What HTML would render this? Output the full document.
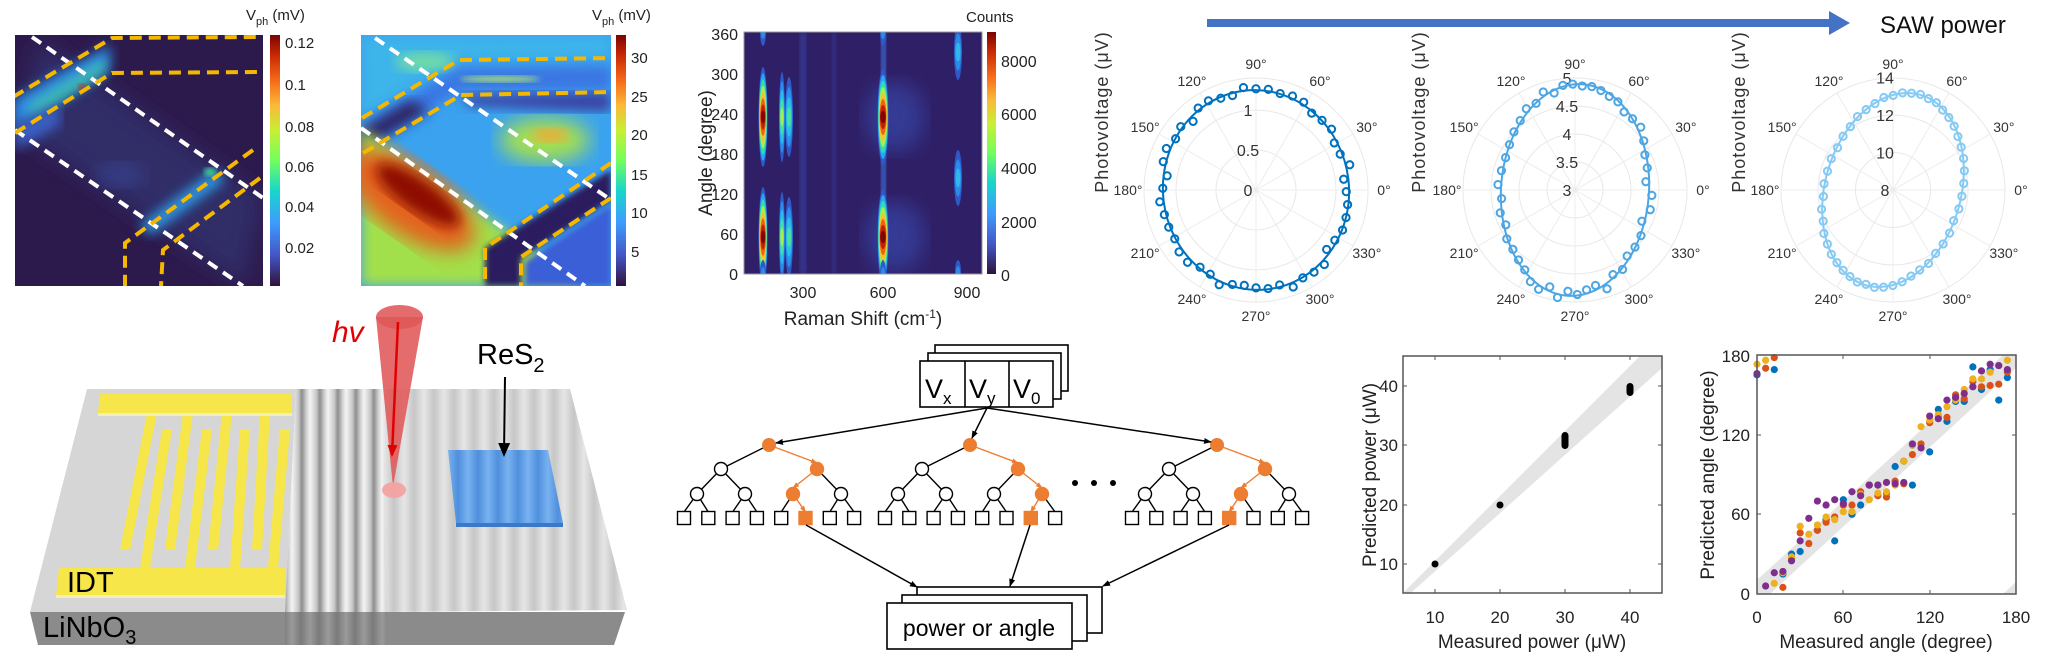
<!DOCTYPE html>
<html><head><meta charset="utf-8">
<style>
html,body{margin:0;padding:0;background:#fff;}
svg{display:block;font-family:"Liberation Sans",sans-serif;}
</style></head>
<body>
<svg id="s" width="2048" height="661" viewBox="0 0 2048 661" xmlns="http://www.w3.org/2000/svg">
<defs>
<linearGradient id="turbo" x1="0" y1="1" x2="0" y2="0">
<stop offset="0" stop-color="#30123b"/><stop offset="0.12" stop-color="#4454c4"/><stop offset="0.25" stop-color="#3e9bfe"/><stop offset="0.38" stop-color="#18d6cb"/><stop offset="0.5" stop-color="#72fe5e"/><stop offset="0.62" stop-color="#c8ef34"/><stop offset="0.72" stop-color="#fbb938"/><stop offset="0.82" stop-color="#f56918"/><stop offset="0.92" stop-color="#c92903"/><stop offset="1" stop-color="#7a0403"/>
</linearGradient>
<filter id="b3"><feGaussianBlur stdDeviation="3"/></filter>
<filter id="b6"><feGaussianBlur stdDeviation="6"/></filter>
<filter id="b10"><feGaussianBlur stdDeviation="10"/></filter>
<clipPath id="c1"><rect x="15" y="35" width="248" height="251"/></clipPath>
<clipPath id="c2"><rect x="361" y="35" width="250" height="251"/></clipPath>
<clipPath id="c3"><rect x="744" y="32" width="238" height="242"/></clipPath>
<clipPath id="ca"><rect x="1757" y="355" width="259" height="239"/></clipPath>
<clipPath id="cp"><rect x="1403" y="356" width="259" height="237"/></clipPath>
<linearGradient id="rip1" gradientUnits="userSpaceOnUse" x1="292" y1="0" x2="310" y2="0" spreadMethod="repeat">
<stop offset="0" stop-color="#f4f4f4"/><stop offset="0.35" stop-color="#c8c8c8"/><stop offset="0.55" stop-color="#8e8e8e"/><stop offset="0.8" stop-color="#d0d0d0"/><stop offset="1" stop-color="#f4f4f4"/>
</linearGradient>
<linearGradient id="rip2" gradientUnits="userSpaceOnUse" x1="384" y1="0" x2="404" y2="0" spreadMethod="repeat">
<stop offset="0" stop-color="#e6e6e6"/><stop offset="0.5" stop-color="#c6c6c6"/><stop offset="1" stop-color="#e6e6e6"/>
</linearGradient>
<linearGradient id="rip3" gradientUnits="userSpaceOnUse" x1="448" y1="0" x2="468" y2="0" spreadMethod="repeat">
<stop offset="0" stop-color="#78b2f0"/><stop offset="0.5" stop-color="#4f8fdc"/><stop offset="1" stop-color="#78b2f0"/>
</linearGradient>
<linearGradient id="front" gradientUnits="userSpaceOnUse" x1="292" y1="0" x2="310" y2="0" spreadMethod="repeat">
<stop offset="0" stop-color="#9a9a9a"/><stop offset="0.5" stop-color="#7a7a7a"/><stop offset="1" stop-color="#9a9a9a"/>
</linearGradient>
<marker id="ak" markerWidth="8" markerHeight="8" refX="7" refY="4" orient="auto" markerUnits="userSpaceOnUse"><path d="M0,1 L8,4 L0,7 Z" fill="#000"/></marker>
<marker id="ao" markerWidth="7" markerHeight="7" refX="6" refY="3.5" orient="auto" markerUnits="userSpaceOnUse"><path d="M0,1 L7,3.5 L0,6 Z" fill="#ed7d31"/></marker>
<marker id="ar" markerWidth="12" markerHeight="12" refX="10" refY="6" orient="auto" markerUnits="userSpaceOnUse"><path d="M0,1 L12,6 L0,11 Z" fill="#e00000"/></marker>
<marker id="ab" markerWidth="14" markerHeight="14" refX="12" refY="7" orient="auto" markerUnits="userSpaceOnUse"><path d="M0,1 L14,7 L0,13 Z" fill="#000"/></marker>
</defs>

<!-- ===== MAP 1 ===== -->
<g clip-path="url(#c1)">
<rect x="15" y="35" width="248" height="251" fill="#2d1a4d"/>
<polygon points="40,40 263,198 243,286 15,130" fill="#33306e" filter="url(#b10)" opacity="0.8"/>
<polygon points="13,100 110,45 110,70 13,130" fill="#2f8ee6" filter="url(#b6)"/>
<polygon points="30,105 105,60 105,72 30,118" fill="#45d69a" filter="url(#b6)" opacity="0.8"/>
<ellipse cx="82" cy="87" rx="4" ry="3" fill="#c83010" filter="url(#b3)"/>
<polygon points="15,125 60,105 60,125 15,150" fill="#3a60c8" filter="url(#b6)"/>
<polygon points="140,225 215,170 225,180 150,235" fill="#2f9eea" filter="url(#b6)"/>
<ellipse cx="210" cy="172" rx="6" ry="4" fill="#40d890" filter="url(#b3)"/>
<ellipse cx="120" cy="175" rx="25" ry="12" fill="#3a4ea0" filter="url(#b10)" opacity="0.6"/>
<g fill="none" stroke-width="4">
<path d="M32,37 L263,198" stroke="#fff" stroke-dasharray="11 7"/>
<path d="M15,130 L243,286" stroke="#fff" stroke-dasharray="11 7"/>
<path d="M13,97 L112,38 L260,37" stroke="#f5b800" stroke-dasharray="12 7"/>
<path d="M15,133 L112,73 L258,72" stroke="#f5b800" stroke-dasharray="12 7"/>
<path d="M253,150 L125,243 L125,286" stroke="#f5b800" stroke-dasharray="12 7"/>
<path d="M260,178 L163,250 L161,286" stroke="#f5b800" stroke-dasharray="12 7"/>
</g>
</g>
<rect x="270" y="35" width="10" height="251" fill="url(#turbo)"/>
<g font-size="15" fill="#222">
<text x="285" y="48">0.12</text><text x="285" y="90">0.1</text><text x="285" y="132">0.08</text><text x="285" y="172">0.06</text><text x="285" y="212">0.04</text><text x="285" y="253">0.02</text>
<text x="246" y="20">V<tspan font-size="11" dy="5">ph</tspan><tspan dy="-5"> (mV)</tspan></text>
</g>

<!-- ===== MAP 2 ===== -->
<g clip-path="url(#c2)">
<rect x="361" y="35" width="250" height="251" fill="#3aa2ef"/>
<polygon points="361,35 611,35 611,58 459,60 362,118" fill="#3cb4ea" filter="url(#b6)"/>
<ellipse cx="425" cy="62" rx="30" ry="10" fill="#6fdca8" filter="url(#b6)"/>
<polygon points="362,125 459,68 611,66 611,90 461,90 362,150" fill="#3a74e2" filter="url(#b6)"/>
<ellipse cx="500" cy="79" rx="40" ry="3" fill="#a8e27a" filter="url(#b3)"/>
<polygon points="461,95 611,92 611,112 470,106" fill="#3a3fa0" filter="url(#b6)"/>
<polygon points="361,130 410,100 430,110 361,150" fill="#2e2564" filter="url(#b6)"/>
<ellipse cx="545" cy="140" rx="45" ry="22" fill="#a6e04e" filter="url(#b10)"/>
<ellipse cx="550" cy="135" rx="18" ry="7" fill="#f0a838" filter="url(#b6)"/>
<polygon points="361,128 585,286 361,286" fill="#a2e04c" filter="url(#b6)"/>
<ellipse cx="410" cy="200" rx="75" ry="34" transform="rotate(35 410 200)" fill="#e3621a" filter="url(#b10)"/>
<ellipse cx="418" cy="195" rx="50" ry="16" transform="rotate(35 418 195)" fill="#8e1005" filter="url(#b6)"/>
<polygon points="611,170 611,200 521,258 521,286 485,286 485,248" fill="#2b1f5e" filter="url(#b3)"/>
<polygon points="611,205 611,286 525,286 525,262" fill="#3b5ed6" filter="url(#b3)"/>
<g fill="none" stroke-width="4">
<path d="M375,38 L611,200" stroke="#fff" stroke-dasharray="11 7"/>
<path d="M361,128 L585,286" stroke="#fff" stroke-dasharray="11 7"/>
<path d="M362,118 L459,60 L610,58" stroke="#f5b800" stroke-dasharray="12 7"/>
<path d="M363,153 L461,95 L610,92" stroke="#f5b800" stroke-dasharray="12 7"/>
<path d="M611,163 L485,248 L485,286" stroke="#f5b800" stroke-dasharray="12 7"/>
<path d="M611,198 L521,257 L521,286" stroke="#f5b800" stroke-dasharray="12 7"/>
</g>
</g>
<rect x="616" y="35" width="10" height="251" fill="url(#turbo)"/>
<g font-size="15" fill="#222">
<text x="631" y="63">30</text><text x="631" y="102">25</text><text x="631" y="140">20</text><text x="631" y="180">15</text><text x="631" y="218">10</text><text x="631" y="257">5</text>
<text x="592" y="20">V<tspan font-size="11" dy="5">ph</tspan><tspan dy="-5"> (mV)</tspan></text>
</g>

<!-- ===== RAMAN ===== -->
<g clip-path="url(#c3)" id="raman">
<rect x="744" y="32" width="238" height="242" fill="#2f1f66"/>
<rect x="800" y="32" width="6" height="242" fill="#3a4fb8" filter="url(#b3)" opacity="0.6"/>
<rect x="832" y="32" width="4" height="242" fill="#3a4fb8" filter="url(#b3)" opacity="0.5"/>
<rect x="881" y="32" width="5" height="242" fill="#3a6ed8" filter="url(#b3)"/>
<ellipse cx="895" cy="117" rx="30" ry="35" fill="#3b55c0" opacity="0.5" filter="url(#b10)"/>
<ellipse cx="895" cy="237" rx="30" ry="35" fill="#3b55c0" opacity="0.5" filter="url(#b10)"/>
</g>
<g stroke="#999" fill="none"><rect x="744" y="32" width="238" height="242"/></g>
<g font-size="16" fill="#222">
<text x="738" y="40" text-anchor="end">360</text><text x="738" y="80" text-anchor="end">300</text><text x="738" y="120" text-anchor="end">240</text><text x="738" y="160" text-anchor="end">180</text><text x="738" y="200" text-anchor="end">120</text><text x="738" y="240" text-anchor="end">60</text><text x="738" y="280" text-anchor="end">0</text>
<text x="803" y="298" text-anchor="middle">300</text><text x="883" y="298" text-anchor="middle">600</text><text x="967" y="298" text-anchor="middle">900</text>
<text x="863" y="325" text-anchor="middle" font-size="19">Raman Shift (cm<tspan font-size="12" dy="-7">-1</tspan><tspan dy="7">)</tspan></text>
<text transform="translate(712,153) rotate(-90)" text-anchor="middle" font-size="19">Angle (degree)</text>
</g>
<rect x="987" y="32" width="9" height="242" fill="url(#turbo)"/>
<g font-size="16" fill="#222">
<text x="1001" y="67">8000</text><text x="1001" y="120">6000</text><text x="1001" y="174">4000</text><text x="1001" y="228">2000</text><text x="1001" y="281">0</text>
<text x="966" y="22" font-size="15">Counts</text>
</g>

<!-- ===== ARROW SAW ===== -->
<rect x="1207" y="19" width="625" height="8" fill="#4472c4"/>
<polygon points="1829,11 1850,23 1829,35" fill="#4472c4"/>
<text x="1880" y="33" font-size="24" fill="#111">SAW power</text>

<g id="polars"></g>

<!-- ===== DEVICE ===== -->
<polygon points="30,612 625,612 614,645 38,645" fill="#8b8b8b"/>
<polygon points="285,612 387,612 387,645 285,645" fill="url(#front)"/>
<polygon points="87,389 296,389 285,612 30,612" fill="#d6d6d6"/>
<polygon points="296,389 384,389 387,612 285,612" fill="url(#rip1)"/>
<polygon points="384,389 570,389 627,610 387,612" fill="url(#rip2)"/>
<g fill="#f7e64a">
<polygon points="100,394 292,394 292,413 98,413"/>
<polygon points="59,568 285,568 285,595 56,595"/>
<polygon points="147,413 157,413 130,550 120,550"/><polygon points="183,413 193,413 175,550 165,550"/>
<polygon points="222,413 232,413 218,550 208,550"/><polygon points="260,413 270,413 262,550 252,550"/>
<polygon points="162,429 172,429 150,568 140,568"/><polygon points="202,429 212,429 195,568 185,568"/>
<polygon points="240,429 250,429 240,568 230,568"/><polygon points="280,429 290,429 278,568 268,568"/>
</g>
<g fill="#f2eeb8"><rect x="98" y="413" width="194" height="3"/><rect x="56" y="595" width="229" height="3"/></g>
<text x="67" y="592" font-size="29" fill="#000">IDT</text>
<text x="43" y="637" font-size="29" fill="#000">LiNbO<tspan font-size="20" dy="7">3</tspan></text>
<polygon points="448,450 548,450 563,523 456,523" fill="url(#rip3)"/>
<polygon points="456,523 563,523 563,527 456,527" fill="#3c78c8"/>
<text x="477" y="364" font-size="29" fill="#000">ReS<tspan font-size="20" dy="8">2</tspan></text>
<line x1="505" y1="377" x2="504" y2="455" stroke="#000" stroke-width="2" marker-end="url(#ab)"/>
<polygon points="376,317 423,317 393,487" fill="#e05858" opacity="0.88"/>
<ellipse cx="399.5" cy="317" rx="23.5" ry="12" fill="#e05858" opacity="0.88"/>
<ellipse cx="394" cy="490" rx="12" ry="8" fill="#f5a0a0" opacity="0.9"/>
<line x1="398" y1="322" x2="392" y2="455" stroke="#e00000" stroke-width="2.5" marker-end="url(#ar)"/>
<text x="332" y="342" font-size="30" font-style="italic" fill="#e00000">hv</text>

<!-- ===== TREES ===== -->
<g fill="#fff" stroke="#000" stroke-width="1.6">
<rect x="935" y="345" width="133" height="46"/>
<rect x="928" y="353" width="133" height="46"/>
<rect x="920" y="361" width="133" height="46"/>
<line x1="965" y1="361" x2="965" y2="407"/><line x1="1009" y1="361" x2="1009" y2="407"/>
<rect x="917" y="587" width="185" height="46"/>
<rect x="902" y="595" width="185" height="46"/>
<rect x="887" y="603" width="185" height="46"/>
</g>
<g fill="#000">
<text x="925" y="398" font-size="27">V<tspan font-size="17" dy="6">x</tspan></text>
<text x="969" y="398" font-size="27">V<tspan font-size="17" dy="6">y</tspan></text>
<text x="1013" y="398" font-size="27">V<tspan font-size="17" dy="6">0</tspan></text>
<text x="979" y="636" font-size="23" text-anchor="middle">power or angle</text>
</g>
<g fill="#000"><circle cx="1075" cy="483" r="3"/><circle cx="1094" cy="483" r="3"/><circle cx="1113" cy="483" r="3"/></g>
<g id="trees"></g>
<g stroke="#000" stroke-width="1.5" fill="none">
<line x1="987" y1="408" x2="776" y2="443" marker-end="url(#ak)"/>
<line x1="987" y1="408" x2="972" y2="438" marker-end="url(#ak)"/>
<line x1="987" y1="408" x2="1211" y2="442" marker-end="url(#ak)"/>
<line x1="806" y1="525" x2="917" y2="587" marker-end="url(#ak)"/>
<line x1="1030" y1="525" x2="1010" y2="586" marker-end="url(#ak)"/>
<line x1="1229" y1="525" x2="1103" y2="586" marker-end="url(#ak)"/>
</g>

<!-- ===== POWER PLOT ===== -->
<g clip-path="url(#cp)">
<polygon points="1403,593 1662,344 1662,368 1403,600" fill="#e4e4e4"/>
<polygon points="1403,593 1640,356 1662,356 1662,368" fill="#e4e4e4"/>
</g>
<rect x="1403" y="356" width="259" height="237" fill="none" stroke="#555" stroke-width="1.5"/>
<g stroke="#555" stroke-width="1">
<line x1="1435" y1="593" x2="1435" y2="589"/><line x1="1500" y1="593" x2="1500" y2="589"/><line x1="1565" y1="593" x2="1565" y2="589"/><line x1="1630" y1="593" x2="1630" y2="589"/>
<line x1="1435" y1="356" x2="1435" y2="360"/><line x1="1500" y1="356" x2="1500" y2="360"/><line x1="1565" y1="356" x2="1565" y2="360"/><line x1="1630" y1="356" x2="1630" y2="360"/>
<line x1="1403" y1="386" x2="1407" y2="386"/><line x1="1403" y1="445" x2="1407" y2="445"/><line x1="1403" y1="505" x2="1407" y2="505"/><line x1="1403" y1="564" x2="1407" y2="564"/>
<line x1="1662" y1="386" x2="1658" y2="386"/><line x1="1662" y1="445" x2="1658" y2="445"/><line x1="1662" y1="505" x2="1658" y2="505"/><line x1="1662" y1="564" x2="1658" y2="564"/>
</g>
<g fill="#000">
<circle cx="1435" cy="564" r="3.5"/><circle cx="1500" cy="505" r="3.5"/>
<rect x="1561.5" y="432" width="7" height="17" rx="3.5"/>
<rect x="1626.5" y="383" width="7" height="13" rx="3.5"/>
</g>
<g font-size="17" fill="#222">
<text x="1398" y="392" text-anchor="end">40</text><text x="1398" y="451" text-anchor="end">30</text><text x="1398" y="511" text-anchor="end">20</text><text x="1398" y="570" text-anchor="end">10</text>
<text x="1435" y="623" text-anchor="middle">10</text><text x="1500" y="623" text-anchor="middle">20</text><text x="1565" y="623" text-anchor="middle">30</text><text x="1630" y="623" text-anchor="middle">40</text>
<text x="1532" y="648" text-anchor="middle" font-size="19">Measured power (μW)</text>
<text transform="translate(1376,475) rotate(-90)" text-anchor="middle" font-size="19">Predicted power (μW)</text>
</g>

<!-- ===== ANGLE PLOT ===== -->
<g clip-path="url(#ca)">
<polygon points="1757,594 1757,580 2003,355 2016,355 2016,368 1770,594" fill="#e4e4e4"/>
<polygon points="2003,594 2016,582 2016,594" fill="#e4e4e4"/>
</g>
<g id="ang"></g>
<rect x="1757" y="355" width="259" height="239" fill="none" stroke="#555" stroke-width="1.5"/>
<g stroke="#555" stroke-width="1">
<line x1="1843" y1="594" x2="1843" y2="590"/><line x1="1930" y1="594" x2="1930" y2="590"/>
<line x1="1843" y1="355" x2="1843" y2="359"/><line x1="1930" y1="355" x2="1930" y2="359"/>
<line x1="1757" y1="435" x2="1761" y2="435"/><line x1="1757" y1="514" x2="1761" y2="514"/>
<line x1="2016" y1="435" x2="2012" y2="435"/><line x1="2016" y1="514" x2="2012" y2="514"/>
</g>
<g font-size="17" fill="#222">
<text x="1750" y="362" text-anchor="end">180</text><text x="1750" y="441" text-anchor="end">120</text><text x="1750" y="520" text-anchor="end">60</text><text x="1750" y="600" text-anchor="end">0</text>
<text x="1757" y="623" text-anchor="middle">0</text><text x="1843" y="623" text-anchor="middle">60</text><text x="1930" y="623" text-anchor="middle">120</text><text x="2016" y="623" text-anchor="middle">180</text>
<text x="1886" y="648" text-anchor="middle" font-size="19">Measured angle (degree)</text>
<text transform="translate(1714,475) rotate(-90)" text-anchor="middle" font-size="19">Predicted angle (degree)</text>
</g>
</svg>
<script>
(function(){
var NS="http://www.w3.org/2000/svg";
function el(p,t,a,txt){var e=document.createElementNS(NS,t);for(var k in a)e.setAttribute(k,a[k]);if(txt!==undefined)e.textContent=txt;p.appendChild(e);return e;}
var seed=7;function rnd(){seed=(seed*16807)%2147483647;return seed/2147483647;}
var rm=document.getElementById('raman');
function blob(cx,cy,ry,w,cols){for(var i=0;i<cols.length;i++){var f=1-i/cols.length;el(rm,'ellipse',{cx:cx,cy:cy,rx:w*(0.4+0.6*f),ry:ry*f,fill:cols[i]});}}
var hot=['#2f58c8','#28a8f0','#2ee0b0','#a8f048','#f8c030','#f06010','#c02004','#800404'];
blob(763,117,50,4.5,hot);blob(763,237,50,4.5,hot);
blob(883,117,48,5.5,hot);blob(883,237,48,5.5,hot);
var mid=['#2f58c8','#2890ec','#28c0e8','#48e0a0'];
blob(782,117,45,3,mid.concat(['#a8f048']));blob(782,237,45,3,mid.concat(['#a8f048']));
blob(789,117,40,4,mid);blob(789,237,40,4,mid);
blob(958,52,28,4,['#2f58c8','#2a8ce8','#30b8ec']);blob(958,178,28,4,['#2f58c8','#2a8ce8','#30b8ec']);blob(958,272,12,3,['#2f58c8','#2a8ce8']);
blob(763,32,14,3,['#2f58c8','#2a8ce8']);blob(883,32,14,3,['#2f58c8','#2a8ce8']);blob(883,274,14,3,['#2f58c8','#2a8ce8']);blob(763,274,14,3,['#2f58c8','#2a8ce8']);
var pg=document.getElementById('polars');
var P=[{cx:1256,cy:190,rings:[40,80],rl:['0','0.5','1'],sp:40,rx:93,ry:100,rot:-7,col:'#0072bd',ly:1102},
{cx:1575,cy:190,rings:[28,56,84],rl:['3','3.5','4','4.5','5'],sp:28,rx:74,ry:106,rot:4,col:'#4da6e3',ly:1419},
{cx:1893,cy:190,rings:[37.5,75],rl:['8','10','12','14'],sp:37.5,rx:68,ry:99,rot:16,col:'#86caf3',ly:1739}];
P.forEach(function(p,pi){
 var R=112;
 el(pg,'circle',{cx:p.cx,cy:p.cy,r:R,fill:'none',stroke:'#e8e8e8'});
 p.rings.forEach(function(r){el(pg,'circle',{cx:p.cx,cy:p.cy,r:r,fill:'none',stroke:'#e8e8e8'});});
 for(var a=0;a<360;a+=30){var t=a*Math.PI/180;el(pg,'line',{x1:p.cx,y1:p.cy,x2:p.cx+R*Math.cos(t),y2:p.cy-R*Math.sin(t),stroke:'#ececec'});
  el(pg,'text',{x:p.cx+128*Math.cos(t),y:p.cy-126*Math.sin(t)+5,'text-anchor':'middle','font-size':14,fill:'#333'},a+'°');}
 p.rl.forEach(function(s,i){el(pg,'text',{x:p.cx-8,y:p.cy-i*p.sp+6,'text-anchor':'middle','font-size':16,fill:'#333'},s);});
 el(pg,'text',{transform:'translate('+(p.ly+6)+',112) rotate(-90)','text-anchor':'middle','font-size':18,fill:'#333','letter-spacing':'1'},'Photovoltage (μV)');
 var g=el(pg,'g',{transform:'rotate('+p.rot+' '+p.cx+' '+p.cy+')'});
 el(g,'ellipse',{cx:p.cx,cy:p.cy,rx:p.rx,ry:p.ry,fill:'none',stroke:p.col,'stroke-width':2});
 for(var k=0;k<48;k++){var t=k*7.5*Math.PI/180;var n=(pi==2?0.01:0.05)*(rnd()-0.5)*2;
  el(g,'circle',{cx:p.cx+p.rx*(1+n)*Math.cos(t),cy:p.cy-p.ry*(1+n)*Math.sin(t),r:3.6,fill:'none',stroke:p.col,'stroke-width':2});}
});
var tg=document.getElementById('trees');var O='#ed7d31';
function tree(rx,path){
 var y0=445,y1=469,y2=494,y3=518;
 var l1=[rx-48,rx+48],l2=[rx-72,rx-24,rx+24,rx+72],l3=[];for(var i=0;i<8;i++)l3.push(rx-85+i*24.3);
 var a=path[0],b=a*2+path[1],c=b*2+path[2];
 function ln(x1,y1_,x2,y2_,on){el(tg,'line',{x1:x1,y1:y1_,x2:x2,y2:y2_,stroke:on?O:'#000','stroke-width':1.4,'marker-end':on?'url(#ao)':''});}
 for(var i=0;i<2;i++)ln(rx,y0,l1[i],y1-(i==a?6:0),i==a);
 for(var i=0;i<4;i++)ln(l1[i>>1],y1,l2[i],y2-(i==b?6:0),i==b);
 for(var i=0;i<8;i++)ln(l2[i>>1],y2,l3[i],y3-6,i==c);
 el(tg,'circle',{cx:rx,cy:y0,r:6.5,fill:O,stroke:O});
 for(var i=0;i<2;i++)el(tg,'circle',{cx:l1[i],cy:y1,r:6.5,fill:i==a?O:'#fff',stroke:i==a?O:'#000','stroke-width':1.4});
 for(var i=0;i<4;i++)el(tg,'circle',{cx:l2[i],cy:y2,r:6.5,fill:i==b?O:'#fff',stroke:i==b?O:'#000','stroke-width':1.4});
 for(var i=0;i<8;i++)el(tg,'rect',{x:l3[i]-6.5,y:y3-6.5,width:13,height:13,fill:i==c?O:'#fff',stroke:i==c?O:'#000','stroke-width':1.4});
}
tree(769,[1,0,1]);tree(970,[1,1,0]);tree(1217,[1,0,0]);
var ag=document.getElementById('ang');
var S={'#0072bd':[[0,165],[12,169],[18,15],[24,30],[30,32],[42,48],[48,56],[54,40],[60,71],[66,60],[72,67],[78,82],[84,82],[90,76],[96,96],[102,100],[108,82],[108,112],[120,107],[126,139],[132,130],[138,145],[144,145],[150,171],[156,154],[162,169],[168,146],[174,163]],
'#d95319':[[6,170],[12,178],[18,5],[24,27],[30,46],[36,38],[42,48],[48,54],[54,58],[60,67],[66,67],[72,77],[78,82],[84,74],[90,73],[96,85],[102,83],[108,105],[114,113],[120,129],[126,134],[132,133],[138,150],[144,147],[150,160],[156,156],[162,157],[168,158],[174,167]],
'#edb120':[[0,173],[6,176],[12,8],[18,16],[24,28],[30,51],[36,45],[42,52],[48,58],[54,56],[60,62],[66,62],[72,75],[78,71],[84,76],[90,77],[96,82],[102,100],[108,112],[114,126],[120,131],[126,135],[132,141],[138,146],[144,154],[150,162],[156,162],[162,167],[168,172],[174,176]],
'#7e2f8e':[[0,166],[6,6],[12,16],[18,17],[24,25],[30,40],[36,57],[42,70],[48,67],[54,71],[60,68],[66,77],[72,74],[78,82],[84,82],[90,84],[96,83],[102,84],[108,113],[114,110],[120,134],[126,132],[132,146],[138,148],[144,151],[150,156],[156,168],[162,173],[168,172],[174,169]]};
for(var c in S)S[c].forEach(function(p){el(ag,'circle',{cx:1757+p[0]*1.439,cy:594-p[1]*1.328,r:3.6,fill:c});});
})();
</script>
</body></html>
